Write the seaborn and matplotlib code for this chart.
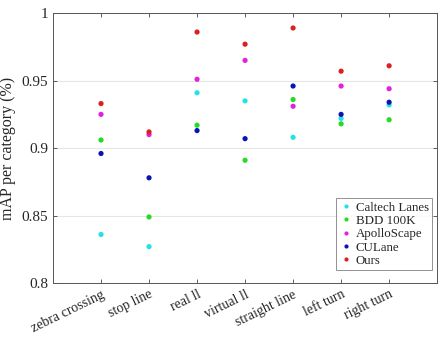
import matplotlib
matplotlib.use("Agg")
import matplotlib.pyplot as plt
import matplotlib.transforms as mtransforms
import seaborn as sns
import pandas as pd
from matplotlib.ticker import FuncFormatter

categories = ["zebra crossing", "stop line", "real ll", "virtual ll",
              "straight line", "left turn", "right turn"]
caltech = [0.836, 0.827, 0.941, 0.935, 0.908, 0.922, 0.932]
bdd = [0.906, 0.849, 0.917, 0.891, 0.936, 0.918, 0.921]
apollo = [0.925, 0.910, 0.951, 0.965, 0.931, 0.946, 0.944]
culane = [0.896, 0.878, 0.913, 0.907, 0.946, 0.925, 0.934]
ours = [0.933, 0.912, 0.986, 0.977, 0.989, 0.957, 0.961]
methods = ["Caltech Lanes", "BDD 100K", "ApolloScape", "CULane", "Ours"]
series = [caltech, bdd, apollo, culane, ours]
colors = ["#22e2e8", "#22dd22", "#e022e0", "#0a14b4", "#dc2020"]
yticks = [0.8, 0.85, 0.9, 0.95, 1.0]

rows = []
for m, vals in zip(methods, series):
    for c, v in zip(categories, vals):
        rows.append({"category": c, "method": m, "value": v})
df = pd.DataFrame(rows)

sns.set_style("white")
plt.rcParams["font.family"] = ["Liberation Serif", "DejaVu Serif"]

fig = plt.figure(figsize=(4.38, 3.37), dpi=100)
ax = fig.add_axes([0.121, 0.160, 0.877, 0.801])

sns.scatterplot(data=df, x="category", y="value", hue="method",
                hue_order=methods, palette=colors, s=14, linewidth=0,
                ax=ax, zorder=3)

ax.set_xlim(-1, 7)
ax.set_ylim(0.8, 1.0)
ax.set_yticks(yticks)
ax.yaxis.set_major_formatter(FuncFormatter(lambda v, p: "%g" % v))
ax.set_xticks(range(len(categories)))
ax.set_xticklabels(categories, rotation=26, ha="right",
                   rotation_mode="anchor", fontsize=10)
offset = mtransforms.ScaledTranslation(6 / 100, -2 / 100, fig.dpi_scale_trans)
for lab in ax.get_xticklabels():
    lab.set_transform(lab.get_transform() + offset)
ax.tick_params(axis="y", labelsize=11)
ax.tick_params(direction="in", length=3, top=True, right=True,
               bottom=True, left=True, color="#444444", width=0.6)
ax.grid(axis="y", color="#e6e6e6", linewidth=0.8, zorder=0)
ax.set_axisbelow(True)
for sp in ax.spines.values():
    sp.set_color("#555555")
    sp.set_linewidth(0.7)
ax.set_xlabel("")
ax.set_ylabel("mAP per category (%)", fontsize=11.5)

leg = ax.legend(loc="lower right", fontsize=9.3, frameon=True, fancybox=False,
                borderpad=0.25, labelspacing=0.1, handletextpad=0.2,
                handlelength=1.1, markerscale=0.8, borderaxespad=0,
                bbox_to_anchor=(0.987, 0.048))
leg.get_frame().set_edgecolor("#777777")
leg.get_frame().set_linewidth(0.7)

fig.savefig("out.png", dpi=100)
